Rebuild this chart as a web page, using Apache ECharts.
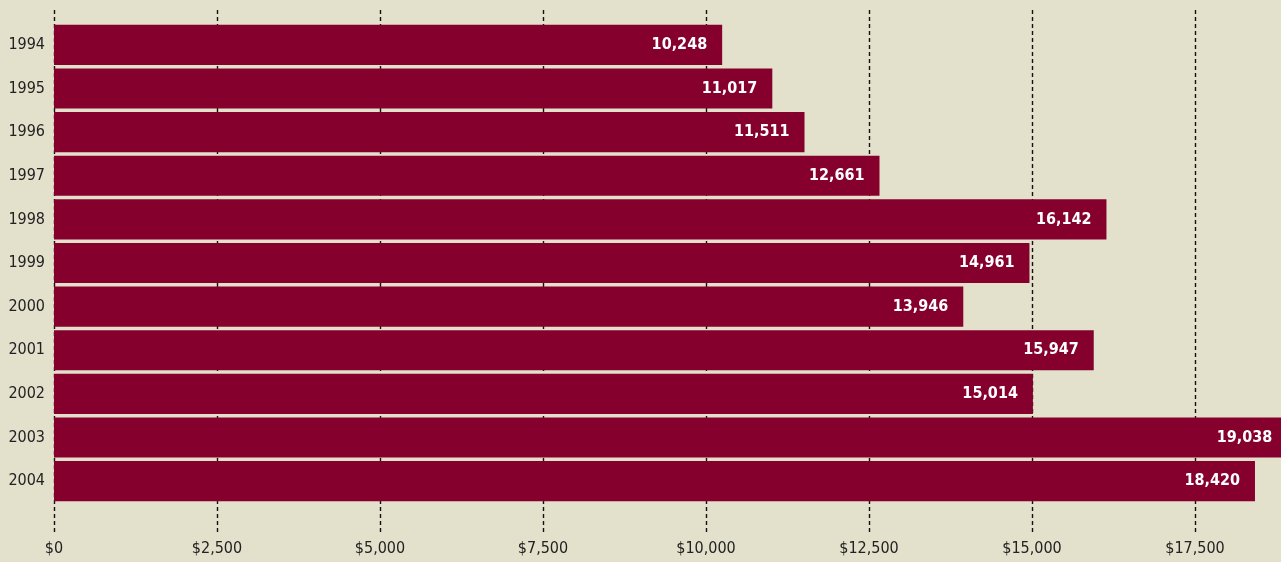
<!DOCTYPE html>
<html>
<head>
<meta charset="utf-8">
<script src="https://cdn.jsdelivr.net/npm/echarts@6/dist/echarts.min.js"></script>
<style>
    html, body {margin: 0; padding: 0; background: #e3e1cc;}
    #chart {width: 1281px; height: 562px;}
</style>
</head>
<body>
<div id="chart"></div>
<script>
const years = ['1994', '1995', '1996', '1997', '1998', '1999', '2000', '2001', '2002', '2003', '2004']
const values = [10248, 11017, 11511, 12661, 16142, 14961, 13946, 15947, 15014, 19038, 18420]
const tickLabels = ['$0', '$2,500', '$5,000', '$7,500', '$10,000', '$12,500', '$15,000', '$17,500', '$20,000']

const font = '"Liberation Sans Narrow", "DejaVu Sans Condensed", sans-serif'

const chart = echarts.init(document.getElementById('chart'))

// the 2003 bar runs off the page, so its label sits further in
const barData = values.map((v) => {
    if (v > 18800) {
        return {value: v, label: {distance: 23}}
    }
    return v
})

const option = {
    backgroundColor: '#e3e1cc',
    animation: false,
    grid: [
        // grid for the dashed lines and the money labels
        {left: 54, right: -77, top: 10, bottom: 27, outerBoundsMode: 'none', containLabel: false},
        // grid for the bars
        {left: 54, right: -77, top: 23, bottom: 59, outerBoundsMode: 'none', containLabel: false}
    ],
    xAxis: [
        {
            gridIndex: 0,
            type: 'value',
            min: 0,
            max: 20000,
            interval: 2500,
            axisLine: {show: false},
            axisTick: {show: false},
            splitLine: {
                show: true,
                lineStyle: {color: '#111', width: 1.4, type: [4, 3]}
            },
            axisLabel: {
                margin: 6,
                color: '#222',
                fontFamily: font,
                fontSize: 16,
                formatter: (v) => tickLabels[v / 2500]
            }
        },
        {
            gridIndex: 1,
            type: 'value',
            min: 0,
            max: 20000,
            interval: 2500,
            show: false
        }
    ],
    yAxis: [
        {
            gridIndex: 0,
            type: 'value',
            show: false
        },
        {
            gridIndex: 1,
            type: 'category',
            inverse: true,
            data: years,
            axisLine: {show: false},
            axisTick: {show: false},
            axisLabel: {
                margin: 9,
                color: '#222',
                fontFamily: font,
                fontSize: 16
            }
        }
    ],
    series: [
        {
            type: 'bar',
            xAxisIndex: 1,
            yAxisIndex: 1,
            data: barData,
            barCategoryGap: '8%',
            itemStyle: {color: '#85002d'},
            label: {
                show: true,
                position: 'insideRight',
                distance: 15,
                color: '#fff',
                fontFamily: font,
                fontWeight: 'bold',
                fontSize: 16,
                formatter: (p) => p.value.toLocaleString('en-US')
            }
        }
    ]
}

chart.setOption(option)
</script>
</body>
</html>
